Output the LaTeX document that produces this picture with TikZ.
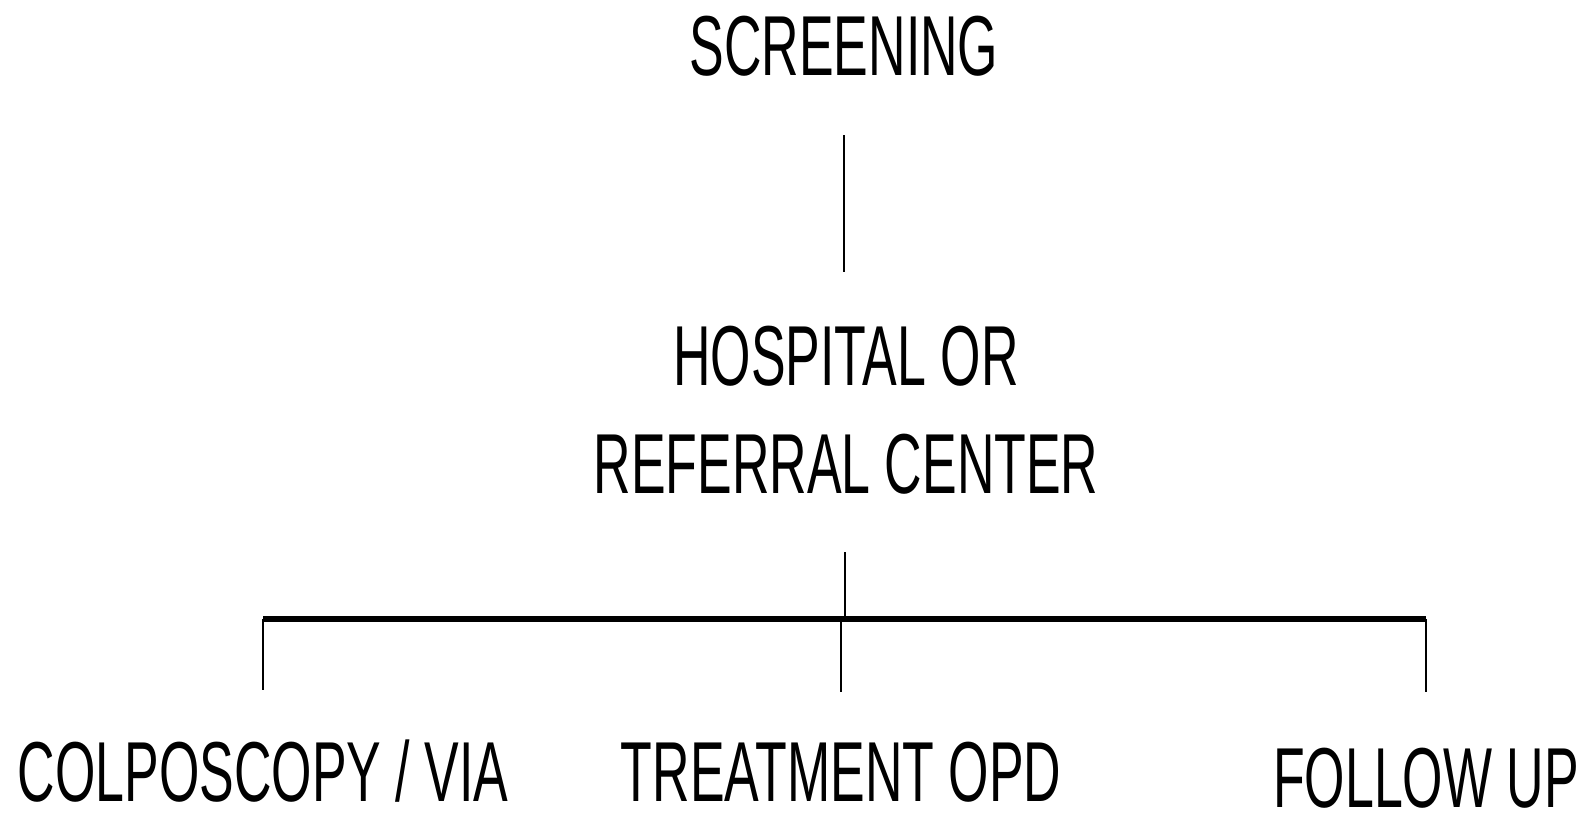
\documentclass[tikz,border=0pt]{standalone}
\usepackage{fontspec}
\setmainfont{Liberation Sans}[FakeStretch=0.61]
\usepackage{tikz}
\usetikzlibrary{positioning,calc}

\begin{document}
\begin{tikzpicture}[
    x=0.01cm, y=-0.01cm,
    label/.style={inner sep=0pt, align=center, font=\fontsize{24.2}{30.9}\selectfont},
    link/.style={line width=0.8pt},
    busbar/.style={line width=1.5pt},
]
    \useasboundingbox (0,0) rectangle (1592,813);

    % top and middle levels
    \node[label, anchor=south] (screen) at (844,77) {SCREENING};
    \node[label, anchor=north] (hosp) at (846,325) {HOSPITAL OR\\REFERRAL CENTER};
    \draw[link, shorten <=0.58cm, shorten >=0.53cm] (screen.south) -- (hosp.north -| screen.south);

    % bottom level
    \node[label, anchor=south] (colpo) at (263,803) {COLPOSCOPY / VIA};
    \node[label, anchor=south] (treat) at (841,803) {TREATMENT OPD};
    \node[label, anchor=south] (follow) at (1426,809) {FOLLOW UP};

    % branching bar
    \coordinate (junc) at (845,619);
    \draw[link, shorten <=0.57cm] (hosp.south -| junc) -- (junc);
    \draw[busbar] (colpo.north |- junc) -- (follow.north |- junc);
    \draw[link, shorten >=0.49cm] (colpo.north |- junc) -- (colpo.north);
    \draw[link, shorten >=0.49cm] (treat.north |- junc) -- (treat.north);
    \draw[link, shorten >=0.55cm] (follow.north |- junc) -- (follow.north);
\end{tikzpicture}
\end{document}
